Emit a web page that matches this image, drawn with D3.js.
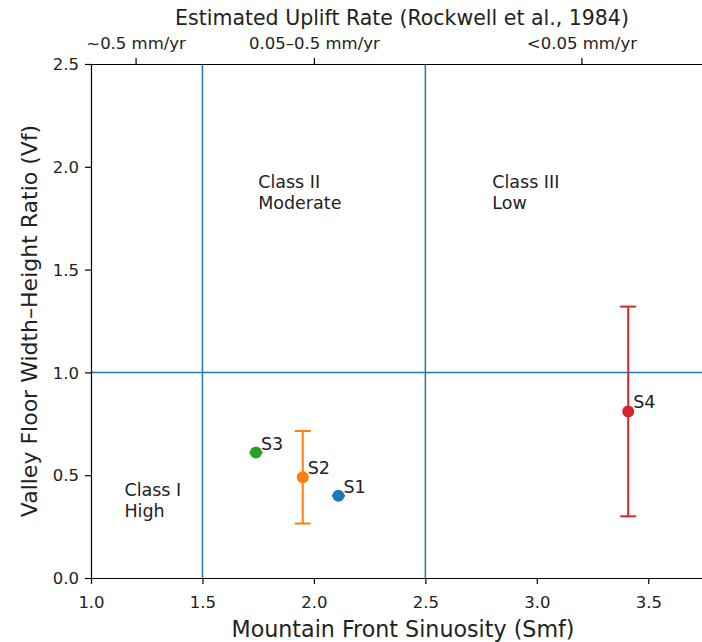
<!DOCTYPE html>
<html><head><meta charset="utf-8">
<script src="https://cdn.jsdelivr.net/npm/d3@7"></script>
<style>body{margin:0;background:#fff}svg{display:block;font-family:"DejaVu Sans",sans-serif}</style>
</head><body><svg id="c" width="702" height="642"></svg>
<script>
const sites = ["S1","S2","S3","S4"];
const smf = [2.11, 1.95, 1.74, 3.41];
const vf = [0.40, 0.49, 0.61, 0.81];
const vfErr = [0, 0.225, 0, 0.51];
const smfErr = [0.03, 0, 0.03, 0];
const colors = ["#1f77b4","#ff7f0e","#2ca02c","#d62728"];
const xTicks = [1.0,1.5,2.0,2.5,3.0,3.5];
const yTicks = [0.0,0.5,1.0,1.5,2.0,2.5];
const topTicks = [1.2, 2.0, 3.2];
const topLabels = ["~0.5 mm/yr","0.05–0.5 mm/yr","<0.05 mm/yr"];
const smfThresholds = [1.5, 2.5];
const vfThreshold = [1.0];
const classX = [1.15, 1.75, 2.8];
const classY = [0.38, 1.88, 1.88];
const classLines = [["Class I","High"],["Class II","Moderate"],["Class III","Low"]];

const svg = d3.select("#c");
const L=91, R=704, T=64, B=578;
const x = d3.scaleLinear().domain([1.0,3.75]).range([L,R]);
const y = d3.scaleLinear().domain([0,2.5]).range([B,T]);
const blue="#1f77b4";

svg.selectAll(".vl").data(smfThresholds).join("line")
  .attr("x1",d=>x(d)).attr("x2",d=>x(d)).attr("y1",T).attr("y2",B)
  .attr("stroke",blue).attr("stroke-width",1.5);
svg.selectAll(".hl").data(vfThreshold).join("line")
  .attr("x1",L).attr("x2",R).attr("y1",d=>y(d)).attr("y2",d=>y(d))
  .attr("stroke",blue).attr("stroke-width",1.5);

classLines.forEach((ls,i)=>{
  const t = svg.append("text").attr("x",x(classX[i])).attr("y",y(classY[i]))
    .attr("font-size",17.5).attr("fill","#222");
  t.append("tspan").attr("x",x(classX[i])).attr("dy","-0.2em").text(ls[0]);
  t.append("tspan").attr("x",x(classX[i])).attr("dy","1.2em").text(ls[1]);
});

sites.forEach((s,i)=>{
  const g = svg.append("g").attr("stroke",colors[i]).attr("stroke-width",2);
  if(vfErr[i]>0){
    const y0=y(vf[i]-vfErr[i]), y1=y(vf[i]+vfErr[i]), cx=x(smf[i]);
    g.append("line").attr("x1",cx).attr("x2",cx).attr("y1",y0).attr("y2",y1);
    [y0,y1].forEach(yy=>g.append("line").attr("x1",cx-8).attr("x2",cx+8).attr("y1",yy).attr("y2",yy));
  }
  if(smfErr[i]>0){
    const cy=y(vf[i]);
    g.append("line").attr("x1",x(smf[i]-smfErr[i])).attr("x2",x(smf[i]+smfErr[i])).attr("y1",cy).attr("y2",cy);
  }
});
svg.selectAll(".pt").data(sites).join("circle")
  .attr("cx",(d,i)=>x(smf[i])).attr("cy",(d,i)=>y(vf[i])).attr("r",6)
  .attr("fill",(d,i)=>colors[i]);
svg.selectAll(".lbl").data(sites).join("text")
  .attr("x",(d,i)=>x(smf[i])+5).attr("y",(d,i)=>y(vf[i])-3)
  .attr("font-size",17.5).attr("fill","#222").text(d=>d);

const fmt = d3.format(".1f");
const xa = svg.append("g").attr("transform",`translate(0,${B})`)
  .call(d3.axisBottom(x).tickValues(xTicks).tickFormat(fmt).tickSize(6).tickPadding(6).tickSizeOuter(0));
const ya = svg.append("g").attr("transform",`translate(${L},0)`)
  .call(d3.axisLeft(y).tickValues(yTicks).tickFormat(fmt).tickSize(6).tickPadding(6).tickSizeOuter(0));
const ta = svg.append("g").attr("transform",`translate(0,${T})`)
  .call(d3.axisTop(x).tickValues(topTicks).tickFormat((d,i)=>topLabels[i]).tickSize(6).tickPadding(6).tickSizeOuter(0));
[xa,ya,ta].forEach(a=>{
  a.selectAll("text").attr("font-size",16.5).attr("fill","#222").attr("font-family","DejaVu Sans");
  a.selectAll("line").attr("stroke","#000").attr("stroke-width",1.2);
  a.select(".domain").attr("stroke","#000").attr("stroke-width",1.2);
});
xa.selectAll("text").attr("dy","1.1em");
ya.selectAll("text").attr("dy","0.35em");
ta.selectAll("text").attr("dy","-0.2em");

svg.append("text").attr("x",403).attr("y",637).attr("text-anchor","middle")
  .attr("font-size",22.2).attr("fill","#222").text("Mountain Front Sinuosity (Smf)");
svg.append("text").attr("transform",`translate(37,${(T+B)/2}) rotate(-90)`).attr("text-anchor","middle")
  .attr("font-size",22).attr("fill","#222").text("Valley Floor Width–Height Ratio (Vf)");
svg.append("text").attr("x",402).attr("y",25).attr("text-anchor","middle")
  .attr("font-size",20.5).attr("fill","#222").text("Estimated Uplift Rate (Rockwell et al., 1984)");
</script></body></html>
